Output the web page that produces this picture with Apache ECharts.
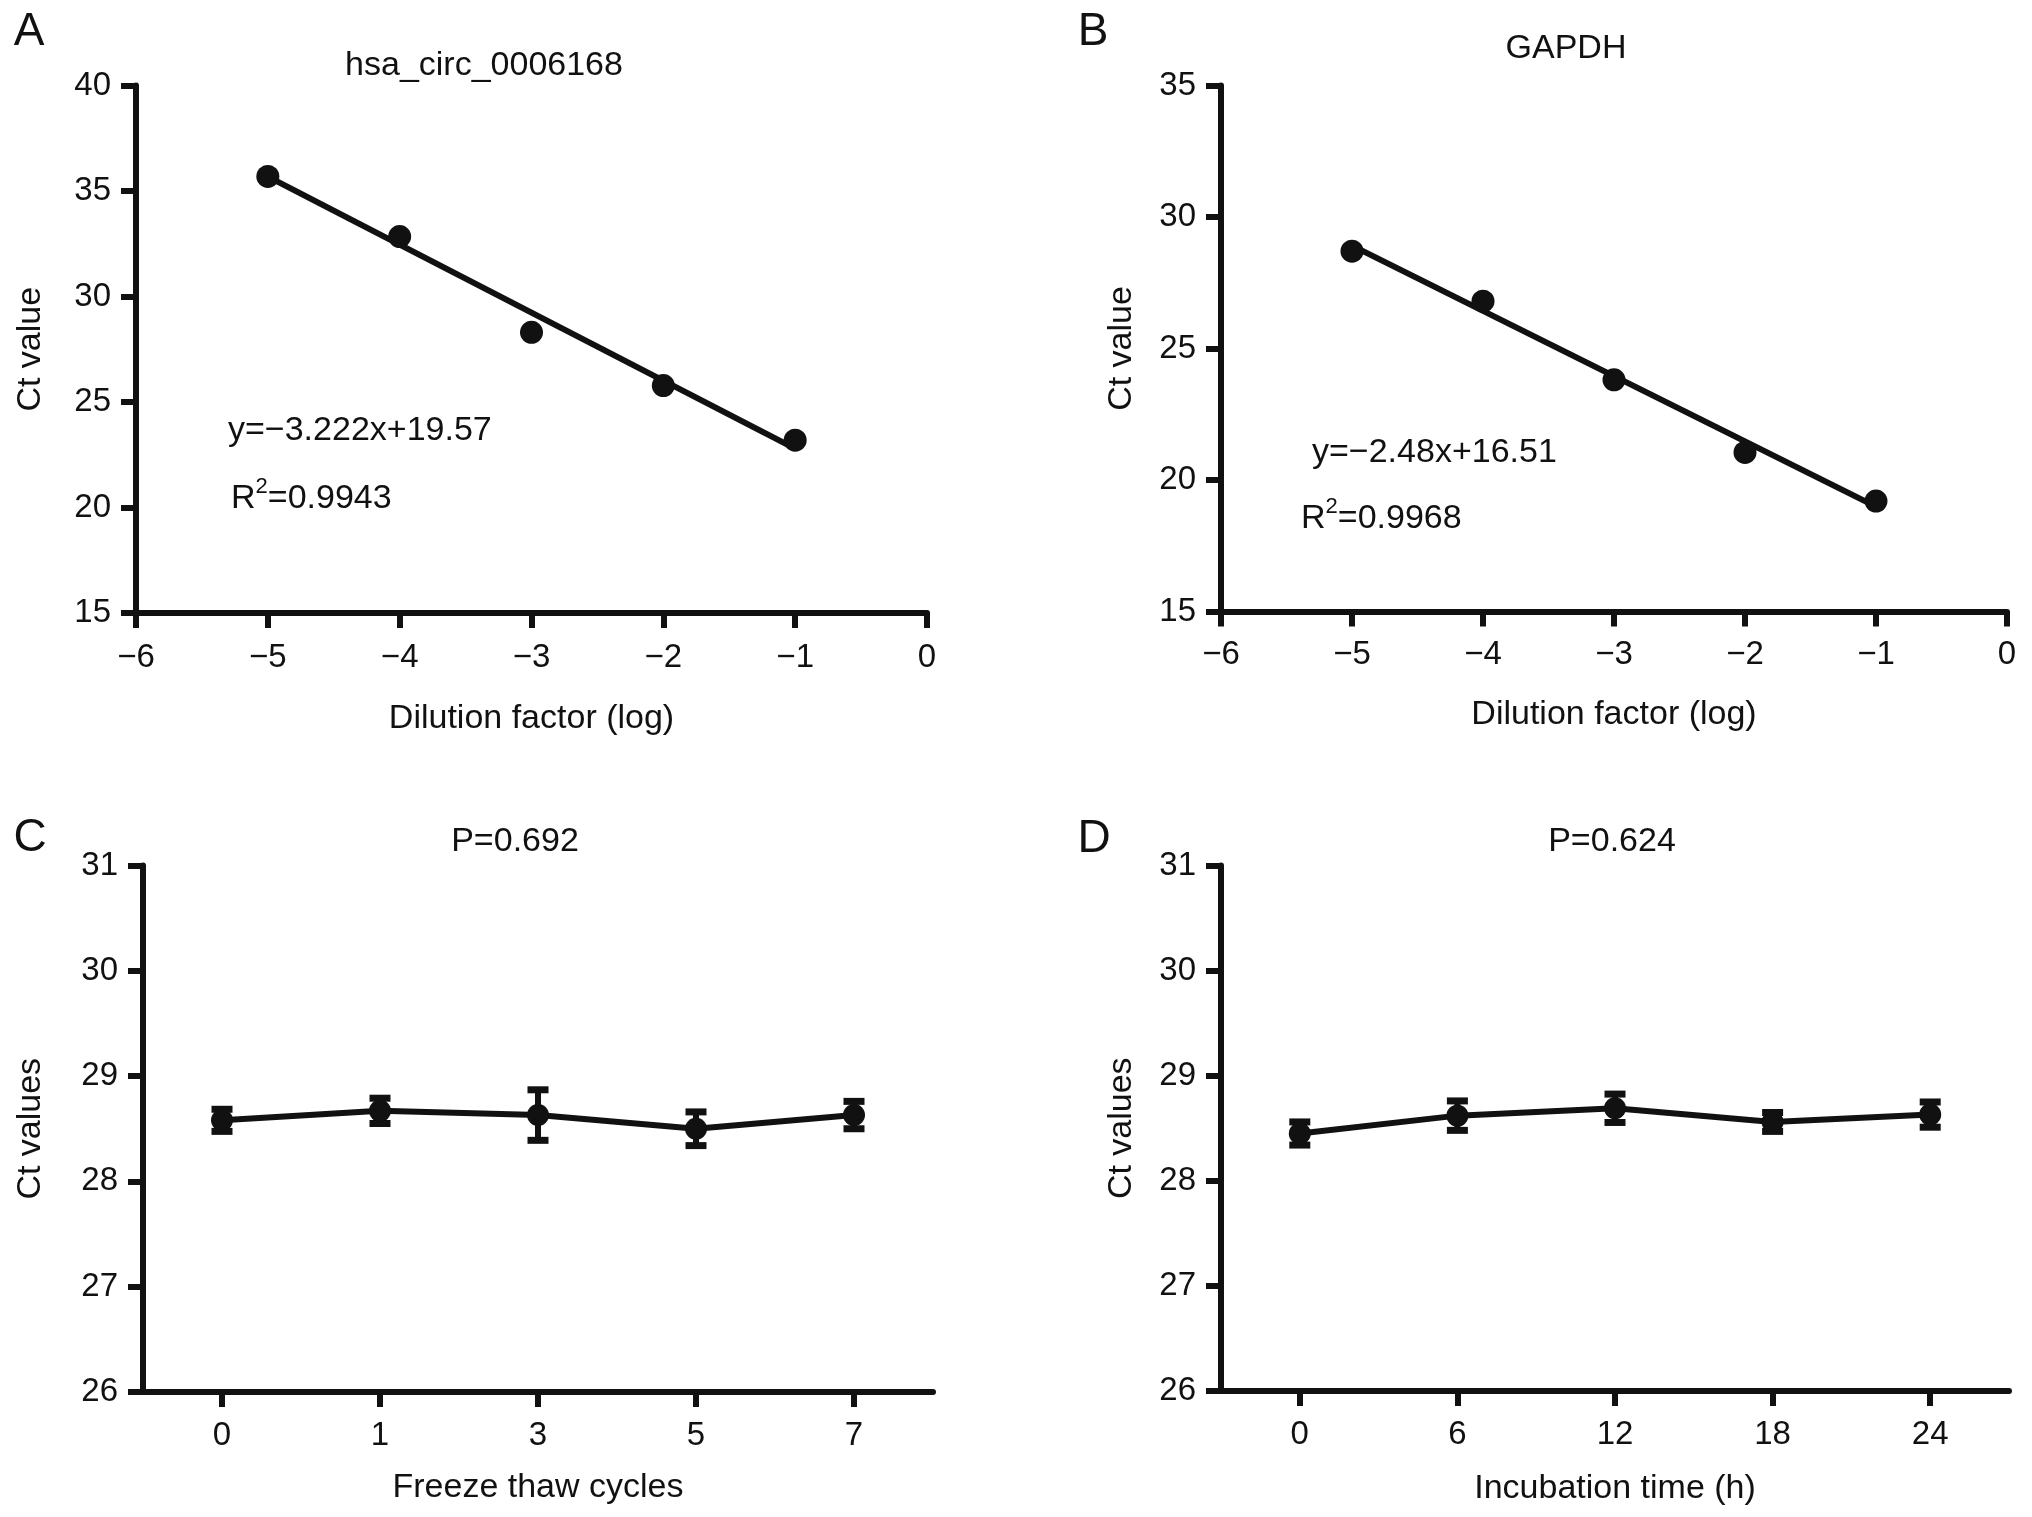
<!DOCTYPE html>
<html><head><meta charset="utf-8">
<script src="https://cdn.jsdelivr.net/npm/echarts@6/dist/echarts.min.js"></script>
<style>html,body{margin:0;padding:0;background:#fff}#c{width:2032px;height:1517px}</style>
</head><body><div id="c"></div>
<script>
// ---- data ----
const dilution = [-5, -4, -3, -2, -1];
const circCt = [35.69, 32.84, 28.30, 25.78, 23.19];
const gapdhCt = [28.70, 26.80, 23.81, 21.05, 19.20];
const circFit = [[-5, 35.68], [-1, 22.79]];
const gapdhFit = [[-5, 28.91], [-1, 18.99]];
const freezeCycles = ['0', '1', '3', '5', '7'];
const freezeMean = [28.58, 28.67, 28.63, 28.50, 28.63];
const freezeErr = [0.105, 0.12, 0.24, 0.16, 0.13];
const incubTime = ['0', '6', '12', '18', '24'];
const incubMean = [28.45, 28.62, 28.69, 28.56, 28.63];
const incubErr = [0.11, 0.14, 0.135, 0.09, 0.12];
const eqA = 'y=\u22123.222x+19.57';
const r2A = '0.9943';
const eqB = 'y=\u22122.48x+16.51';
const r2B = '0.9968';

const FONT = "'Liberation Sans', Arial, Helvetica, sans-serif";
const INK = '#111';
const AXW = 6;

function axisCommon(extra) {
  return Object.assign({
    axisLine: { show: true, onZero: false, lineStyle: { color: INK, width: AXW } },
    axisTick: { show: true, length: 15, lineStyle: { color: INK, width: AXW } },
    axisLabel: { color: INK, fontSize: 33, fontFamily: FONT, margin: 25, showMinLabel: true, showMaxLabel: true },
    splitLine: { show: false },
    nameLocation: 'middle',
    nameMoveOverlap: false,
    nameTextStyle: { color: INK, fontSize: 34, fontFamily: FONT }
  }, extra);
}
const minusFmt = v => (v < 0 ? '\u2212' + Math.abs(v) : String(v));

function errorRender(params, api) {
  const x = api.value(0), lo = api.value(1), hi = api.value(2);
  const pLo = api.coord([x, lo]), pHi = api.coord([x, hi]);
  const capW = 21, capH = 7;
  return {
    type: 'group', children: [
      { type: 'line', shape: { x1: pLo[0], y1: pLo[1], x2: pHi[0], y2: pHi[1] }, style: { stroke: INK, lineWidth: 6 } },
      { type: 'rect', shape: { x: pHi[0] - capW / 2, y: pHi[1] - capH / 2, width: capW, height: capH }, style: { fill: INK } },
      { type: 'rect', shape: { x: pLo[0] - capW / 2, y: pLo[1] - capH / 2, width: capW, height: capH }, style: { fill: INK } }
    ]
  };
}

function txt(x, y, text, size, align) {
  return {
    type: 'text', x: x, y: y, silent: true,
    style: { text: text, fill: INK, fontSize: size, fontFamily: FONT,
      align: align || 'center', textAlign: align || 'center', verticalAlign: 'middle', textVerticalAlign: 'middle' }
  };
}
function r2txt(x, y, val) {
  return {
    type: 'text', x: x, y: y, silent: true,
    style: {
      text: '{n|R}{s|2}{n|=' + val + '}', align: 'left', textAlign: 'left', verticalAlign: 'middle', textVerticalAlign: 'middle',
      rich: {
        n: { fill: INK, fontSize: 34, fontFamily: FONT, lineHeight: 40, verticalAlign: 'bottom' },
        s: { fill: INK, fontSize: 22, fontFamily: FONT, lineHeight: 40, verticalAlign: 'top' }
      }
    }
  };
}

const option = {
  backgroundColor: '#fff',
  animation: false,
  grid: [
    { left: 136, top: 85.5, width: 791, height: 527.5, containLabel: false, outerBoundsMode: 'none' },
    { left: 1221, top: 85.5, width: 786, height: 526, containLabel: false, outerBoundsMode: 'none' },
    { left: 143, top: 865.5, width: 790, height: 526.5, containLabel: false, outerBoundsMode: 'none' },
    { left: 1221, top: 865.5, width: 788, height: 525.5, containLabel: false, outerBoundsMode: 'none' }
  ],
  xAxis: [
    axisCommon({ gridIndex: 0, type: 'value', min: -6, max: 0, interval: 1, name: 'Dilution factor (log)', nameGap: 89,
      axisLabel: { color: INK, fontSize: 33, fontFamily: FONT, margin: 28, formatter: minusFmt, showMinLabel: true, showMaxLabel: true } }),
    axisCommon({ gridIndex: 1, type: 'value', min: -6, max: 0, interval: 1, name: 'Dilution factor (log)', nameGap: 86,
      axisLabel: { color: INK, fontSize: 33, fontFamily: FONT, margin: 27, formatter: minusFmt, showMinLabel: true, showMaxLabel: true } }),
    axisCommon({ gridIndex: 2, type: 'category', data: freezeCycles, boundaryGap: true, name: 'Freeze thaw cycles', nameGap: 79,
      axisLabel: { color: INK, fontSize: 33, fontFamily: FONT, margin: 27 },
      axisTick: { show: true, alignWithLabel: true, length: 15, lineStyle: { color: INK, width: AXW } } }),
    axisCommon({ gridIndex: 3, type: 'category', data: incubTime, boundaryGap: true, name: 'Incubation time (h)', nameGap: 81,
      axisLabel: { color: INK, fontSize: 33, fontFamily: FONT, margin: 27 },
      axisTick: { show: true, alignWithLabel: true, length: 15, lineStyle: { color: INK, width: AXW } } })
  ],
  yAxis: [
    axisCommon({ gridIndex: 0, type: 'value', min: 15, max: 40, interval: 5, name: 'Ct value', nameGap: 88 }),
    axisCommon({ gridIndex: 1, type: 'value', min: 15, max: 35, interval: 5, name: 'Ct value', nameGap: 82 }),
    axisCommon({ gridIndex: 2, type: 'value', min: 26, max: 31, interval: 1, name: 'Ct values', nameGap: 95 }),
    axisCommon({ gridIndex: 3, type: 'value', min: 26, max: 31, interval: 1, name: 'Ct values', nameGap: 82 })
  ],
  series: [
    { type: 'line', xAxisIndex: 0, yAxisIndex: 0, data: circFit, symbol: 'none', lineStyle: { color: INK, width: 6 }, z: 2 },
    { type: 'scatter', xAxisIndex: 0, yAxisIndex: 0, data: dilution.map((x, i) => [x, circCt[i]]), symbol: 'circle', symbolSize: 23, itemStyle: { color: INK, opacity: 1 }, z: 3 },
    { type: 'line', xAxisIndex: 1, yAxisIndex: 1, data: gapdhFit, symbol: 'none', lineStyle: { color: INK, width: 6 }, z: 2 },
    { type: 'scatter', xAxisIndex: 1, yAxisIndex: 1, data: dilution.map((x, i) => [x, gapdhCt[i]]), symbol: 'circle', symbolSize: 23, itemStyle: { color: INK, opacity: 1 }, z: 3 },
    { type: 'custom', xAxisIndex: 2, yAxisIndex: 2, renderItem: errorRender, encode: { x: 0, y: [1, 2] },
      data: freezeMean.map((m, i) => [i, m - freezeErr[i], m + freezeErr[i]]), z: 2 },
    { type: 'line', xAxisIndex: 2, yAxisIndex: 2, data: freezeMean, symbol: 'circle', symbolSize: 22, showAllSymbol: true,
      lineStyle: { color: INK, width: 6 }, itemStyle: { color: INK, borderWidth: 0 }, z: 3 },
    { type: 'custom', xAxisIndex: 3, yAxisIndex: 3, renderItem: errorRender, encode: { x: 0, y: [1, 2] },
      data: incubMean.map((m, i) => [i, m - incubErr[i], m + incubErr[i]]), z: 2 },
    { type: 'line', xAxisIndex: 3, yAxisIndex: 3, data: incubMean, symbol: 'circle', symbolSize: 22, showAllSymbol: true,
      lineStyle: { color: INK, width: 6 }, itemStyle: { color: INK, borderWidth: 0 }, z: 3 }
  ],
  graphic: [
    txt(29, 32, 'A', 46), txt(1093, 32, 'B', 46), txt(30, 838, 'C', 46), txt(1094, 839, 'D', 46),
    txt(484, 66, 'hsa_circ_0006168', 34), txt(1566, 49, 'GAPDH', 34),
    txt(515, 842, 'P=0.692', 34), txt(1612, 842, 'P=0.624', 34),
    txt(228, 431, eqA, 34, 'left'), r2txt(231, 496, r2A),
    txt(1312, 453, eqB, 34, 'left'), r2txt(1301, 516, r2B)
  ]
};
const chart = echarts.init(document.getElementById('c'), null, { renderer: 'canvas' });
chart.setOption(option);
</script>
</body></html>
